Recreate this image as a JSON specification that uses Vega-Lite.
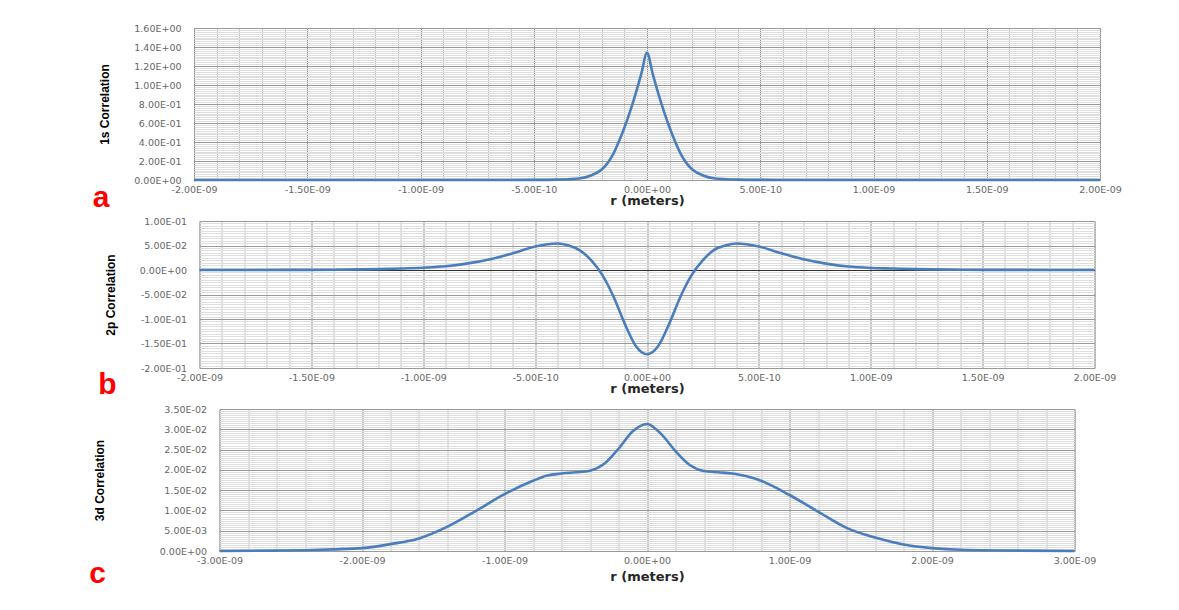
{
  "$schema": "https://vega.github.io/schema/vega-lite/v6.json",
  "background": "white",
  "padding": {"left": 88, "top": 22, "right": 10, "bottom": 10},
  "datasets": {
    "s1": [
      {"r": -2e-9, "v": 0}, {"r": -1e-9, "v": 0}, {"r": -6e-10, "v": 0.0003}, {"r": -5e-10, "v": 0.0012},
      {"r": -4e-10, "v": 0.004}, {"r": -3.5e-10, "v": 0.008}, {"r": -3e-10, "v": 0.016}, {"r": -2.5e-10, "v": 0.045},
      {"r": -2e-10, "v": 0.11}, {"r": -1.75e-10, "v": 0.175}, {"r": -1.5e-10, "v": 0.27}, {"r": -1.25e-10, "v": 0.4},
      {"r": -1e-10, "v": 0.55}, {"r": -7.5e-11, "v": 0.72}, {"r": -5e-11, "v": 0.91}, {"r": -2.5e-11, "v": 1.12},
      {"r": 0, "v": 1.34},
      {"r": 2.5e-11, "v": 1.12}, {"r": 5e-11, "v": 0.91}, {"r": 7.5e-11, "v": 0.72}, {"r": 1e-10, "v": 0.55},
      {"r": 1.25e-10, "v": 0.4}, {"r": 1.5e-10, "v": 0.27}, {"r": 1.75e-10, "v": 0.175}, {"r": 2e-10, "v": 0.11},
      {"r": 2.5e-10, "v": 0.045}, {"r": 3e-10, "v": 0.016}, {"r": 3.5e-10, "v": 0.008}, {"r": 4e-10, "v": 0.004},
      {"r": 5e-10, "v": 0.0012}, {"r": 6e-10, "v": 0.0003}, {"r": 1e-9, "v": 0}, {"r": 2e-9, "v": 0}
    ],
    "p2": [
      {"r": -2e-9, "v": 0}, {"r": -1.6e-9, "v": 0.0002}, {"r": -1.4e-9, "v": 0.0006}, {"r": -1.2e-9, "v": 0.0018},
      {"r": -1.1e-9, "v": 0.003}, {"r": -1e-9, "v": 0.0047}, {"r": -9e-10, "v": 0.0075}, {"r": -8e-10, "v": 0.0135},
      {"r": -7e-10, "v": 0.022}, {"r": -6e-10, "v": 0.034}, {"r": -5e-10, "v": 0.048}, {"r": -4e-10, "v": 0.054},
      {"r": -3.5e-10, "v": 0.05}, {"r": -3e-10, "v": 0.04}, {"r": -2.5e-10, "v": 0.02}, {"r": -2e-10, "v": -0.01},
      {"r": -1.5e-10, "v": -0.054}, {"r": -1e-10, "v": -0.109}, {"r": -5e-11, "v": -0.155}, {"r": 0, "v": -0.172},
      {"r": 5e-11, "v": -0.155}, {"r": 1e-10, "v": -0.109}, {"r": 1.5e-10, "v": -0.054}, {"r": 2e-10, "v": -0.01},
      {"r": 2.5e-10, "v": 0.02}, {"r": 3e-10, "v": 0.041}, {"r": 3.5e-10, "v": 0.05}, {"r": 4e-10, "v": 0.054},
      {"r": 5e-10, "v": 0.048}, {"r": 6e-10, "v": 0.034}, {"r": 7e-10, "v": 0.022}, {"r": 8e-10, "v": 0.013},
      {"r": 9e-10, "v": 0.007}, {"r": 1e-9, "v": 0.0042}, {"r": 1.1e-9, "v": 0.003}, {"r": 1.2e-9, "v": 0.0018},
      {"r": 1.4e-9, "v": 0.0006}, {"r": 1.6e-9, "v": 0.0002}, {"r": 2e-9, "v": 0}
    ],
    "d3": [
      {"r": -3e-9, "v": 0}, {"r": -2.6e-9, "v": 0.0001}, {"r": -2.4e-9, "v": 0.0002}, {"r": -2.2e-9, "v": 0.0004},
      {"r": -2e-9, "v": 0.0007}, {"r": -1.8e-9, "v": 0.0017}, {"r": -1.6e-9, "v": 0.0031}, {"r": -1.4e-9, "v": 0.006},
      {"r": -1.2e-9, "v": 0.0099}, {"r": -1e-9, "v": 0.014}, {"r": -8e-10, "v": 0.0173}, {"r": -7e-10, "v": 0.0186},
      {"r": -6e-10, "v": 0.0191}, {"r": -5e-10, "v": 0.0194}, {"r": -4e-10, "v": 0.0198}, {"r": -3e-10, "v": 0.0215},
      {"r": -2e-10, "v": 0.0252}, {"r": -1e-10, "v": 0.0295}, {"r": 0, "v": 0.0313}, {"r": 1e-10, "v": 0.0288},
      {"r": 2e-10, "v": 0.0246}, {"r": 3e-10, "v": 0.0212}, {"r": 4e-10, "v": 0.0197}, {"r": 5e-10, "v": 0.0194},
      {"r": 6e-10, "v": 0.0191}, {"r": 7e-10, "v": 0.0184}, {"r": 8e-10, "v": 0.0173}, {"r": 1e-9, "v": 0.0138},
      {"r": 1.2e-9, "v": 0.0097}, {"r": 1.4e-9, "v": 0.0057}, {"r": 1.6e-9, "v": 0.0033}, {"r": 1.8e-9, "v": 0.0016},
      {"r": 2e-9, "v": 0.0007}, {"r": 2.2e-9, "v": 0.0003}, {"r": 2.6e-9, "v": 0.0001}, {"r": 3e-9, "v": 0}
    ]
  },
  "config": {
    "view": {"stroke": "#c8c8c8", "strokeWidth": 1},
    "axis": {"ticks": false, "tickSize": 0, "domain": false, "labelFont": "DejaVu Sans", "labelFontSize": 9.5, "labelColor": "#666666", "labelFlush": false, "labelOverlap": false},
    "axisX": {"labelPadding": 4, "titleFont": "DejaVu Sans", "titleFontWeight": "bold", "titleFontSize": 13, "titlePadding": 1, "titleColor": "#262626"},
    "axisY": {"labelPadding": 13, "titleFont": "Liberation Sans", "titleFontWeight": "bold", "titleFontSize": 12, "titlePadding": 22, "titleColor": "#000000"},
    "title": {"orient": "bottom", "anchor": "start", "frame": "bounds", "color": "#ff0000", "fontSize": 30, "fontWeight": "bold", "font": "Liberation Sans", "baseline": "alphabetic", "offset": 0}
  },
  "vconcat": [
    {
      "width": 906, "height": 152,
      "data": {"name": "s1"},
      "title": {"text": "a", "dx": -6, "dy": -29},
      "layer": [
        {
          "mark": {"type": "line", "opacity": 0},
          "encoding": {
            "x": {"field": "r", "type": "quantitative", "scale": {"domain": [-2e-9, 2e-9], "nice": false, "zero": false},
              "axis": {"orient": "top", "labels": false, "title": null, "grid": true, "tickCount": 40,
                "gridColor": {"condition": {"test": "abs(datum.value / 5e-10 - round(datum.value / 5e-10)) < 0.001", "value": "#8c8c8c"}, "value": "#c0c0c0"}}},
            "y": {"field": "v", "type": "quantitative", "scale": {"domain": [0, 1.6], "nice": false},
              "axis": {"orient": "right", "labels": false, "title": null, "grid": true, "tickCount": 80,
                "gridColor": {"condition": {"test": "abs(datum.value / 0.2 - round(datum.value / 0.2)) < 0.001", "value": "#9a9a9a"}, "value": "#dedede"}}}
          }
        },
        {
          "mark": {"type": "line", "color": "#4a7ebb", "strokeWidth": 2.6, "interpolate": "monotone"},
          "encoding": {
            "x": {"field": "r", "type": "quantitative", "scale": {"domain": [-2e-9, 2e-9], "nice": false, "zero": false},
              "axis": {"orient": "bottom", "grid": false, "title": "r (meters)", "values": [-2e-9, -1.5e-9, -1e-9, -5e-10, 0, 5e-10, 1e-9, 1.5e-9, 2e-9],
                "labelExpr": "datum.value == 0 ? '0.00E+00' : (datum.value < 0 ? '-' : '') + format(abs(datum.value) / pow(10, floor(log(abs(datum.value)) / LN10 + 1e-6)), '.2f') + 'E' + (floor(log(abs(datum.value)) / LN10 + 1e-6) < 0 ? '-' : '+') + format(abs(floor(log(abs(datum.value)) / LN10 + 1e-6)), '02d')"}},
            "y": {"field": "v", "type": "quantitative", "scale": {"domain": [0, 1.6], "nice": false},
              "axis": {"orient": "left", "grid": false, "title": "1s Correlation", "values": [0, 0.2, 0.4, 0.6, 0.8, 1.0, 1.2, 1.4, 1.6],
                "labelExpr": "datum.value == 0 ? '0.00E+00' : (datum.value < 0 ? '-' : '') + format(abs(datum.value) / pow(10, floor(log(abs(datum.value)) / LN10 + 1e-6)), '.2f') + 'E' + (floor(log(abs(datum.value)) / LN10 + 1e-6) < 0 ? '-' : '+') + format(abs(floor(log(abs(datum.value)) / LN10 + 1e-6)), '02d')"}}
          }
        }
      ],
      "resolve": {"axis": {"x": "independent", "y": "independent"}}
    },
    {
      "width": 895, "height": 147,
      "data": {"name": "p2"},
      "title": {"text": "b", "dx": -6, "dy": -30},
      "layer": [
        {
          "mark": {"type": "line", "opacity": 0},
          "encoding": {
            "x": {"field": "r", "type": "quantitative", "scale": {"domain": [-2e-9, 2e-9], "nice": false, "zero": false},
              "axis": {"orient": "top", "labels": false, "title": null, "grid": true, "tickCount": 40,
                "gridColor": {"condition": {"test": "abs(datum.value / 5e-10 - round(datum.value / 5e-10)) < 0.001", "value": "#8c8c8c"}, "value": "#c0c0c0"}}},
            "y": {"field": "v", "type": "quantitative", "scale": {"domain": [-0.2, 0.1], "nice": false, "zero": false},
              "axis": {"orient": "right", "labels": false, "title": null, "grid": true, "tickCount": 60,
                "gridColor": {"condition": [{"test": "abs(datum.value) < 1e-6", "value": "#2f2f2f"}, {"test": "abs(datum.value / 0.05 - round(datum.value / 0.05)) < 0.001", "value": "#9a9a9a"}], "value": "#dedede"}}}
          }
        },
        {
          "mark": {"type": "line", "color": "#4a7ebb", "strokeWidth": 2.6, "interpolate": "monotone"},
          "encoding": {
            "x": {"field": "r", "type": "quantitative", "scale": {"domain": [-2e-9, 2e-9], "nice": false, "zero": false},
              "axis": {"orient": "bottom", "grid": false, "title": "r (meters)", "values": [-2e-9, -1.5e-9, -1e-9, -5e-10, 0, 5e-10, 1e-9, 1.5e-9, 2e-9],
                "labelExpr": "datum.value == 0 ? '0.00E+00' : (datum.value < 0 ? '-' : '') + format(abs(datum.value) / pow(10, floor(log(abs(datum.value)) / LN10 + 1e-6)), '.2f') + 'E' + (floor(log(abs(datum.value)) / LN10 + 1e-6) < 0 ? '-' : '+') + format(abs(floor(log(abs(datum.value)) / LN10 + 1e-6)), '02d')"}},
            "y": {"field": "v", "type": "quantitative", "scale": {"domain": [-0.2, 0.1], "nice": false, "zero": false},
              "axis": {"orient": "left", "grid": false, "title": "2p Correlation", "values": [-0.2, -0.15, -0.1, -0.05, 0, 0.05, 0.1],
                "labelExpr": "datum.value == 0 ? '0.00E+00' : (datum.value < 0 ? '-' : '') + format(abs(datum.value) / pow(10, floor(log(abs(datum.value)) / LN10 + 1e-6)), '.2f') + 'E' + (floor(log(abs(datum.value)) / LN10 + 1e-6) < 0 ? '-' : '+') + format(abs(floor(log(abs(datum.value)) / LN10 + 1e-6)), '02d')"}}
          }
        }
      ],
      "resolve": {"axis": {"x": "independent", "y": "independent"}}
    },
    {
      "width": 855, "height": 142,
      "data": {"name": "d3"},
      "title": {"text": "c", "dx": -4, "dy": -29},
      "layer": [
        {
          "mark": {"type": "line", "opacity": 0},
          "encoding": {
            "x": {"field": "r", "type": "quantitative", "scale": {"domain": [-3e-9, 3e-9], "nice": false, "zero": false},
              "axis": {"orient": "top", "labels": false, "title": null, "grid": true, "tickCount": 30,
                "gridColor": {"condition": {"test": "abs(datum.value / 1e-9 - round(datum.value / 1e-9)) < 0.001", "value": "#8c8c8c"}, "value": "#c0c0c0"}}},
            "y": {"field": "v", "type": "quantitative", "scale": {"domain": [0, 0.035], "nice": false},
              "axis": {"orient": "right", "labels": false, "title": null, "grid": true, "tickCount": 70,
                "gridColor": {"condition": {"test": "abs(datum.value / 0.005 - round(datum.value / 0.005)) < 0.001", "value": "#9a9a9a"}, "value": "#dedede"}}}
          }
        },
        {
          "mark": {"type": "line", "color": "#4a7ebb", "strokeWidth": 2.6, "interpolate": "monotone"},
          "encoding": {
            "x": {"field": "r", "type": "quantitative", "scale": {"domain": [-3e-9, 3e-9], "nice": false, "zero": false},
              "axis": {"orient": "bottom", "grid": false, "title": "r (meters)", "titlePadding": 6, "values": [-3e-9, -2e-9, -1e-9, 0, 1e-9, 2e-9, 3e-9],
                "labelExpr": "datum.value == 0 ? '0.00E+00' : (datum.value < 0 ? '-' : '') + format(abs(datum.value) / pow(10, floor(log(abs(datum.value)) / LN10 + 1e-6)), '.2f') + 'E' + (floor(log(abs(datum.value)) / LN10 + 1e-6) < 0 ? '-' : '+') + format(abs(floor(log(abs(datum.value)) / LN10 + 1e-6)), '02d')"}},
            "y": {"field": "v", "type": "quantitative", "scale": {"domain": [0, 0.035], "nice": false},
              "axis": {"orient": "left", "grid": false, "title": "3d Correlation", "titlePadding": 53, "values": [0, 0.005, 0.01, 0.015, 0.02, 0.025, 0.03, 0.035],
                "labelExpr": "datum.value == 0 ? '0.00E+00' : (datum.value < 0 ? '-' : '') + format(abs(datum.value) / pow(10, floor(log(abs(datum.value)) / LN10 + 1e-6)), '.2f') + 'E' + (floor(log(abs(datum.value)) / LN10 + 1e-6) < 0 ? '-' : '+') + format(abs(floor(log(abs(datum.value)) / LN10 + 1e-6)), '02d')"}}
          }
        }
      ],
      "resolve": {"axis": {"x": "independent", "y": "independent"}}
    }
  ],
  "spacing": 41,
  "bounds": "flush",
  "center": true
}
